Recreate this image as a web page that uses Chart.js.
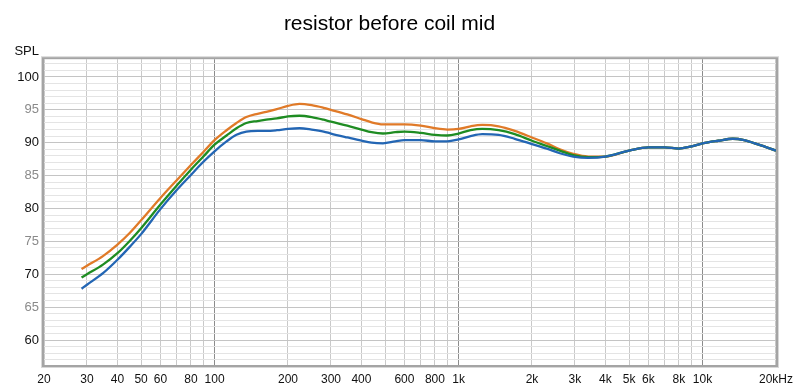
<!DOCTYPE html>
<html>
<head>
<meta charset="utf-8">
<script src="https://cdn.jsdelivr.net/npm/chart.js@4.4.1/dist/chart.umd.min.js"></script>
<style>
  html, body { margin: 0; padding: 0; background: #fff; }
  canvas { display: block; }
</style>
</head>
<body>
<canvas id="spl" width="800" height="391"></canvas>
<script>
// frequency points (Hz)
const freq = [28.5, 30, 35, 40, 45, 50, 60, 70, 80, 90, 100, 112, 123, 135, 150, 163, 180, 200, 223, 250, 280, 300, 350, 400, 440, 490, 550, 600, 700, 800, 900, 1000, 1120, 1250, 1460, 1700, 2000, 2300, 2600, 2950, 3400, 4000, 5000, 6000, 7000, 8000, 8900, 10000, 11600, 13300, 14800, 17000, 20000]

const splOrange = [70.8, 71.3, 72.8, 74.5, 76.3, 78.2, 81.6, 84.3, 86.6, 88.6, 90.4, 91.9, 93.0, 93.9, 94.4, 94.7, 95.1, 95.6, 95.9, 95.7, 95.3, 95.0, 94.3, 93.6, 93.1, 92.8, 92.8, 92.8, 92.6, 92.2, 92.0, 92.1, 92.5, 92.7, 92.5, 91.8, 90.8, 89.9, 89.0, 88.3, 87.9, 87.9, 88.8, 89.3, 89.3, 89.1, 89.4, 89.9, 90.3, 90.6, 90.4, 89.7, 88.8]
const splGreen  = [69.5, 70.0, 71.5, 73.2, 75.1, 77.0, 80.6, 83.5, 85.9, 87.9, 89.7, 91.1, 92.2, 93.0, 93.3, 93.5, 93.7, 94.0, 94.1, 93.9, 93.5, 93.2, 92.6, 92.0, 91.6, 91.4, 91.6, 91.7, 91.5, 91.2, 91.1, 91.4, 91.9, 92.1, 91.9, 91.3, 90.3, 89.5, 88.8, 88.1, 87.8, 87.9, 88.8, 89.3, 89.3, 89.1, 89.4, 89.9, 90.3, 90.6, 90.4, 89.7, 88.8]
const splBlue   = [67.8, 68.4, 70.2, 72.2, 74.2, 76.1, 79.9, 82.8, 85.1, 87.1, 88.7, 90.2, 91.2, 91.7, 91.8, 91.8, 91.9, 92.1, 92.2, 92.0, 91.7, 91.4, 90.8, 90.3, 90.0, 89.9, 90.2, 90.4, 90.4, 90.2, 90.2, 90.5, 91.0, 91.3, 91.2, 90.6, 89.8, 89.1, 88.4, 87.9, 87.7, 87.9, 88.8, 89.3, 89.3, 89.1, 89.4, 89.9, 90.3, 90.6, 90.4, 89.7, 88.8]

// grid lines / tick labels
const xGrid = [20, 30, 40, 50, 60, 70, 80, 90, 100, 200, 300, 400, 500, 600, 700, 800, 900, 1000, 2000, 3000, 4000, 5000, 6000, 7000, 8000, 9000, 10000, 20000]
const xLabels = {20: '20', 30: '30', 40: '40', 50: '50', 60: '60', 80: '80', 100: '100', 200: '200', 300: '300', 400: '400', 600: '600', 800: '800', 1000: '1k', 2000: '2k', 3000: '3k', 4000: '4k', 5000: '5k', 6000: '6k', 8000: '8k', 10000: '10k', 20000: '20kHz'}
const yGrid = [57, 58, 59, 60, 61, 62, 63, 64, 65, 66, 67, 68, 69, 70, 71, 72, 73, 74, 75, 76, 77, 78, 79, 80, 81, 82, 83, 84, 85, 86, 87, 88, 89, 90, 91, 92, 93, 94, 95, 96, 97, 98, 99, 100, 101, 102]

const FONT = '"Liberation Sans", Arial, sans-serif'

function series(label, values, color) {
    return {
        label,
        data: freq.map((f, i) => ({x: f, y: values[i]})),
        showLine: true,
        borderColor: color,
        borderWidth: 2.3,
        pointRadius: 0,
        cubicInterpolationMode: 'monotone',
        fill: false
    }
}

const frame = {
    id: 'frame',
    afterDraw(chart) {
        const {ctx, chartArea: a} = chart
        ctx.save()
        ctx.strokeStyle = '#d8d8d8'
        ctx.lineWidth = 1
        ctx.strokeRect(a.left - 2.5, a.top - 2.5, a.right - a.left + 5, a.bottom - a.top + 5)
        ctx.strokeStyle = '#a4a4a4'
        ctx.lineWidth = 2
        ctx.strokeRect(a.left - 1, a.top - 1, a.right - a.left + 2, a.bottom - a.top + 2)
        ctx.fillStyle = '#111'
        ctx.font = '13px ' + FONT
        ctx.textAlign = 'right'
        ctx.textBaseline = 'alphabetic'
        ctx.fillText('SPL', 39, 55)
        ctx.restore()
    }
}

// first dataset ends up on top, so blue goes first
const data = {
    datasets: [
        series('blue', splBlue, '#2366b4'),
        series('green', splGreen, '#1e8c22'),
        series('orange', splOrange, '#e07a28')
    ]
}

const options = {
    responsive: false,
    animation: false,
    layout: { padding: { left: 0, right: 21, top: 1, bottom: 0 } },
    plugins: {
        legend: { display: false },
        tooltip: { enabled: false },
        title: {
            display: true,
            text: 'resistor before coil mid',
            color: '#000',
            font: { family: FONT, size: 21, weight: 'normal' },
            padding: { top: 11, bottom: 22 }
        }
    },
    scales: {
        x: {
            type: 'logarithmic',
            min: 20,
            max: 20000,
            afterBuildTicks: axis => { axis.ticks = xGrid.map(v => ({value: v})) },
            afterFit: axis => { axis.height = 26 },
            border: { display: false },
            grid: {
                drawTicks: false,
                color: c => [100, 1000, 10000].includes(c.tick.value) ? '#8c8c8c' : '#c9c9c9'
            },
            ticks: {
                autoSkip: false,
                maxRotation: 0,
                padding: 7,
                color: '#111',
                font: { family: FONT, size: 12 },
                callback: v => xLabels[v] || ''
            }
        },
        y: {
            min: 56.2,
            max: 102.7,
            afterBuildTicks: axis => { axis.ticks = yGrid.map(v => ({value: v})) },
            afterFit: axis => { axis.width = 44 },
            border: { display: false },
            grid: {
                drawTicks: false,
                color: c => c.tick.value % 5 === 0 ? '#c4c4c4' : '#e4e4e4'
            },
            ticks: {
                autoSkip: false,
                padding: 5,
                font: { family: FONT, size: 13 },
                color: c => c.tick.value % 10 === 0 ? '#111' : '#8a8a8a',
                callback: v => v % 5 === 0 ? String(v) : ''
            }
        }
    }
}

new Chart('spl', {type: 'scatter', data, options, plugins: [frame]})
</script>
</body>
</html>
